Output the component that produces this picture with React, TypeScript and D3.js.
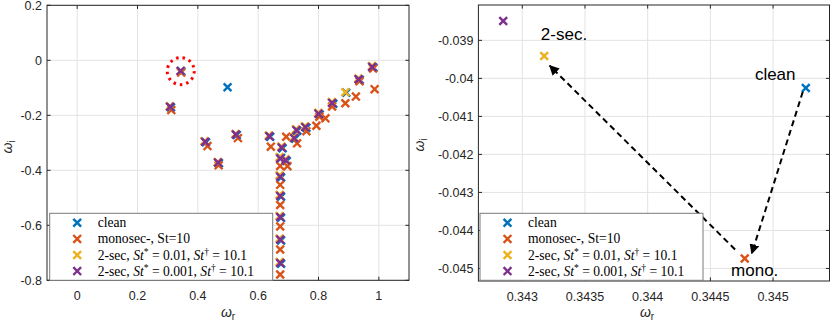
import React from "react";
import * as d3 from "d3";

// ---------- data ----------
const seriesNames = ["clean", "monosec-, St=10", "2-sec 0.01", "2-sec 0.001"];
const seriesColors = ["#0072BD", "#D95319", "#EDB120", "#7E2F8E"];

const cleanPts: [number, number][] = [
  [0.345261, -0.040255], [0.311, -0.171], [0.427, -0.298], [0.470, -0.374], [0.529, -0.272],
  [0.640, -0.278], [0.681, -0.320], [0.695, -0.366], [0.723, -0.285], [0.730, -0.256],
  [0.760, -0.245], [0.804, -0.197], [0.849, -0.158], [0.937, -0.071], [0.982, -0.026],
  [0.676, -0.355], [0.676, -0.426], [0.676, -0.496], [0.676, -0.573], [0.676, -0.655],
  [0.676, -0.740], [0.4985, -0.098], [0.892, -0.118],
];
const monoPts: [number, number][] = [
  [0.344774, -0.044737], [0.312, -0.181], [0.432, -0.312], [0.469, -0.382], [0.533, -0.283],
  [0.642, -0.314], [0.693, -0.278], [0.697, -0.385], [0.729, -0.302], [0.760, -0.258],
  [0.793, -0.238], [0.823, -0.211], [0.845, -0.168], [0.889, -0.156], [0.924, -0.132],
  [0.986, -0.105], [0.936, -0.076], [0.981, -0.030], [0.803, -0.205], [0.673, -0.384],
  [0.673, -0.453], [0.673, -0.526], [0.673, -0.604], [0.673, -0.688], [0.673, -0.779],
];
const sec01Pts: [number, number][] = [
  [0.343175, -0.039413], [0.307, -0.167], [0.422, -0.294], [0.466, -0.370], [0.525, -0.268],
  [0.635, -0.273], [0.677, -0.313], [0.690, -0.360], [0.718, -0.280], [0.725, -0.251],
  [0.755, -0.240], [0.799, -0.191], [0.844, -0.152], [0.932, -0.066], [0.977, -0.021],
  [0.671, -0.352], [0.671, -0.418], [0.671, -0.489], [0.671, -0.566], [0.671, -0.648],
  [0.671, -0.733], [0.889, -0.116],
];
const sec001Pts: [number, number][] = [
  [0.342848, -0.038492], [0.308, -0.169], [0.424, -0.296], [0.467, -0.372], [0.526, -0.270],
  [0.637, -0.276], [0.678, -0.317], [0.691, -0.363], [0.719, -0.283], [0.727, -0.254],
  [0.756, -0.243], [0.800, -0.194], [0.845, -0.155], [0.933, -0.069], [0.978, -0.024],
  [0.673, -0.357], [0.673, -0.423], [0.673, -0.493], [0.673, -0.570], [0.673, -0.652],
  [0.673, -0.737],
];
const allSeries = [cleanPts, monoPts, sec01Pts, sec001Pts];

const leftXTicks = [0, 0.2, 0.4, 0.6, 0.8, 1];
const leftXLabels = ["0", "0.2", "0.4", "0.6", "0.8", "1"];
const leftYTicks = [0.2, 0, -0.2, -0.4, -0.6, -0.8];
const leftYLabels = ["0.2", "0", "-0.2", "-0.4", "-0.6", "-0.8"];
const rightXTicks = [0.343, 0.3435, 0.344, 0.3445, 0.345];
const rightXLabels = ["0.343", "0.3435", "0.344", "0.3445", "0.345"];
const rightYTicks = [-0.039, -0.04, -0.041, -0.042, -0.043, -0.044, -0.045];
const rightYLabels = ["-0.039", "-0.04", "-0.041", "-0.042", "-0.043", "-0.044", "-0.045"];

// arrows in the zoomed panel: [x0,y0,x1,y1]
const arrows: [number, number, number, number][] = [
  [0.345237, -0.040353, 0.34483, -0.044605],
  [0.344697, -0.0445, 0.343219, -0.039668],
];
const annotations: { text: string; x: number; y: number }[] = [
  { text: "2-sec.", x: 0.343148, y: -0.038993 },
  { text: "clean", x: 0.344855, y: -0.040045 },
  { text: "mono.", x: 0.344665, y: -0.045205 },
];
const circledPoint: [number, number] = [0.345, -0.043];

const TICK_FONT = "'Liberation Sans', Arial, sans-serif";
const SERIF = "'Liberation Serif', 'Times New Roman', serif";

function Marker({ x, y, color }: { x: number; y: number; color: string }) {
  const h = 3.9;
  return (
    <path
      d={`M${x - h},${y - h}L${x + h},${y + h}M${x - h},${y + h}L${x + h},${y - h}`}
      stroke={color}
      strokeWidth={2.4}
      fill="none"
    />
  );
}

function Legend({ x, y }: { x: number; y: number }) {
  const w = 223;
  const h = 67;
  const sup = (s: string) => (
    <tspan fontSize={9.5} dy={-5}>{s}</tspan>
  );
  const rows = [
    <tspan key="a">clean</tspan>,
    <tspan key="b">monosec-, St=10</tspan>,
    <>
      <tspan>2-sec, </tspan>
      <tspan fontStyle="italic">St</tspan>
      {sup("*")}
      <tspan dy={5}> = 0.01, </tspan>
      <tspan fontStyle="italic">St</tspan>
      {sup("†")}
      <tspan dy={5}> = 10.1</tspan>
    </>,
    <>
      <tspan>2-sec, </tspan>
      <tspan fontStyle="italic">St</tspan>
      {sup("*")}
      <tspan dy={5}> = 0.001, </tspan>
      <tspan fontStyle="italic">St</tspan>
      {sup("†")}
      <tspan dy={5}> = 10.1</tspan>
    </>,
  ];
  return (
    <g>
      <rect x={x} y={y} width={w} height={h} fill="white" stroke="#7a7a7a" strokeWidth={1} />
      {rows.map((r, i) => {
        const cy = y + 9.5 + i * 16.1;
        return (
          <g key={i}>
            <Marker x={x + 27.5} y={cy} color={seriesColors[i]} />
            <text x={x + 48} y={cy + 4.5} fontFamily={SERIF} fontSize={13.6} fill="#000" style={{ whiteSpace: "pre" }}>
              {r}
            </text>
          </g>
        );
      })}
    </g>
  );
}

function Panel({
  left, right, top, bottom, xDomain, yDomain, xTicks, xLabels, yTicks, yLabels, clipId, children,
}: any) {
  const x = d3.scaleLinear().domain(xDomain).range([left, right]);
  const y = d3.scaleLinear().domain(yDomain).range([bottom, top]);
  const tl = 3.6;
  return (
    <g>
      <defs>
        <clipPath id={clipId}>
          <rect x={left} y={top} width={right - left} height={bottom - top} />
        </clipPath>
      </defs>
      <rect x={left} y={top} width={right - left} height={bottom - top} fill="white" />
      {xTicks.map((t: number) => (
        <line key={"gx" + t} x1={x(t)} x2={x(t)} y1={top} y2={bottom} stroke="#e3e3e3" strokeWidth={1} />
      ))}
      {yTicks.map((t: number) => (
        <line key={"gy" + t} x1={left} x2={right} y1={y(t)} y2={y(t)} stroke="#e3e3e3" strokeWidth={1} />
      ))}
      <g clipPath={`url(#${clipId})`}>
        {allSeries.map((s, si) =>
          s.map((p, pi) => <Marker key={si + "-" + pi} x={x(p[0])} y={y(p[1])} color={seriesColors[si]} />)
        )}
        {children && children(x, y)}
      </g>
      <rect x={left} y={top} width={right - left} height={bottom - top} fill="none" stroke="#262626" strokeWidth={1} />
      {xTicks.map((t: number, i: number) => (
        <g key={"tx" + t}>
          <line x1={x(t)} x2={x(t)} y1={bottom} y2={bottom - tl} stroke="#262626" />
          <line x1={x(t)} x2={x(t)} y1={top} y2={top + tl} stroke="#262626" />
          <text x={x(t)} y={bottom + 20} textAnchor="middle" fontFamily={TICK_FONT} fontSize={12.5} fill="#262626">
            {xLabels[i]}
          </text>
        </g>
      ))}
      {yTicks.map((t: number, i: number) => (
        <g key={"ty" + t}>
          <line x1={left} x2={left + tl} y1={y(t)} y2={y(t)} stroke="#262626" />
          <line x1={right} x2={right - tl} y1={y(t)} y2={y(t)} stroke="#262626" />
          <text x={left - 5} y={y(t) + 4.5} textAnchor="end" fontFamily={TICK_FONT} fontSize={12.5} fill="#262626">
            {yLabels[i]}
          </text>
        </g>
      ))}
    </g>
  );
}

export default function App() {
  const L = { left: 47, right: 409, top: 5.3, bottom: 280.3 };
  const R = { left: 478.4, right: 829.5, top: 5, bottom: 281 };
  return (
    <div style={{ position: "absolute", left: 0, top: 0 }}>
      <svg width={830} height={327} style={{ display: "block", background: "white" }}>
        <rect width={830} height={327} fill="white" />
        <defs>
          <marker id="ah" viewBox="0 0 10 10" refX={9} refY={5} markerWidth={5} markerHeight={5} orient="auto">
            <path d="M0,0L10,5L0,10z" fill="#000" />
          </marker>
        </defs>
        <Panel
          {...L}
          xDomain={[-0.1, 1.1]}
          yDomain={[-0.8, 0.2]}
          xTicks={leftXTicks}
          xLabels={leftXLabels}
          yTicks={leftYTicks}
          yLabels={leftYLabels}
          clipId="clipL"
        >
          {(x: any, y: any) => (
            <circle
              cx={x(circledPoint[0]) - 0.5}
              cy={y(circledPoint[1]) - 1}
              r={13.5}
              fill="none"
              stroke="#ff0000"
              strokeWidth={3}
              strokeDasharray="2.5 4"
            />
          )}
        </Panel>
        <Legend x={49.7} y={213.3} />
        <Panel
          {...R}
          xDomain={[0.34265, 0.34545]}
          yDomain={[-0.04533, -0.03807]}
          xTicks={rightXTicks}
          xLabels={rightXLabels}
          yTicks={rightYTicks}
          yLabels={rightYLabels}
          clipId="clipR"
        >
          {(x: any, y: any) => (
            <g>
              {arrows.map((a, i) => (
                <line
                  key={i}
                  x1={x(a[0])}
                  y1={y(a[1])}
                  x2={x(a[2])}
                  y2={y(a[3])}
                  stroke="#000"
                  strokeWidth={2}
                  strokeDasharray="6 4"
                  markerEnd="url(#ah)"
                />
              ))}
              {annotations.map((a, i) => (
                <text key={i} x={x(a.x)} y={y(a.y)} fontFamily={TICK_FONT} fontSize={17} fill="#000">
                  {a.text}
                </text>
              ))}
            </g>
          )}
        </Panel>
        <Legend x={480} y={213.3} />
        {/* axis labels */}
        <text x={228} y={317} textAnchor="middle" fontFamily={TICK_FONT} fontSize={14} fill="#262626">
          <tspan fontStyle="italic">ω</tspan>
          <tspan fontSize={10} dy={3}>r</tspan>
        </text>
        <text x={647} y={317} textAnchor="middle" fontFamily={TICK_FONT} fontSize={14} fill="#262626">
          <tspan fontStyle="italic">ω</tspan>
          <tspan fontSize={10} dy={3}>r</tspan>
        </text>
        <text transform="translate(12,147) rotate(-90)" textAnchor="middle" fontFamily={TICK_FONT} fontSize={14} fill="#262626">
          <tspan fontStyle="italic">ω</tspan>
          <tspan fontSize={10} dy={3}>i</tspan>
        </text>
        <text transform="translate(424,145) rotate(-90)" textAnchor="middle" fontFamily={TICK_FONT} fontSize={14} fill="#262626">
          <tspan fontStyle="italic">ω</tspan>
          <tspan fontSize={10} dy={3}>i</tspan>
        </text>
      </svg>
    </div>
  );
}
